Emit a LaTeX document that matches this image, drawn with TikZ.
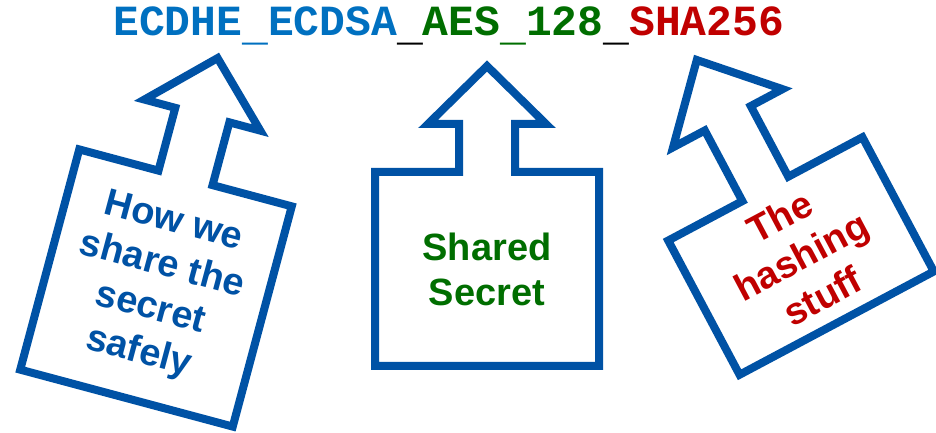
\documentclass[tikz,border=0pt]{standalone}
\usepackage{fontspec}
\setmainfont{Liberation Sans}
\newfontfamily\codefont{Liberation Mono}
\definecolor{lineblue}{RGB}{0,82,165}
\definecolor{codeblue}{RGB}{0,112,192}
\definecolor{keygreen}{RGB}{0,110,0}
\definecolor{hashred}{RGB}{192,0,0}
\newcommand{\lowbar}{\raisebox{-5pt}{\_}}
\tikzset{
  outline/.style={draw=lineblue, line width=8pt, fill=white},
  label/.style={align=center, font=\fontsize{38}{45}\selectfont\bfseries, inner sep=0pt}
}

\begin{document}
\begin{tikzpicture}[x=1pt,y=1pt]
\useasboundingbox (0,0) rectangle (936,433);

% cipher suite name
\node (suite) [anchor=base west, inner sep=0pt, font=\fontsize{43}{43}\selectfont\codefont\bfseries]
   at (113,397) {\textcolor{codeblue}{ECDHE\lowbar ECDSA}\lowbar\textcolor{keygreen}{AES\lowbar 128}\lowbar\textcolor{hashred}{SHA256}};

% left arrow: key exchange
\begin{scope}[shift={(156,145)}, rotate=-15]
  \draw[outline] (-110,-114) -- (110,-114) -- (110,114) -- (28,114) -- (28,179) -- (60,179)
       -- (0,238) -- (-60,179) -- (-28,179) -- (-28,114) -- (-110,114) -- cycle;
\end{scope}
\node (exchange) [label, text=lineblue, rotate=-15] at (156,145) {How we\\share the\\secret\\safely};

% middle arrow: cipher
\begin{scope}[shift={(487,164)}]
  \draw[outline] (-112,-97) -- (112,-97) -- (112,97) -- (28,97) -- (28,145) -- (59,145)
       -- (0,203) -- (-59,145) -- (-28,145) -- (-28,97) -- (-112,97) -- cycle;
\end{scope}
\node (cipher) [label, text=keygreen] at (487,164) {Shared\\Secret};

% right arrow: hash
\begin{scope}[shift={(801,177)}, rotate=28]
  \draw[outline] (-110,-76) -- (110,-76) -- (110,76) -- (26,76) -- (26,156) -- (62,156)
       -- (0,222) -- (-62,156) -- (-26,156) -- (-26,76) -- (-110,76) -- cycle;
\end{scope}
\node (hash) [label, text=hashred, rotate=28] at (801,177) {The\\hashing\\stuff};

\end{tikzpicture}
\end{document}
